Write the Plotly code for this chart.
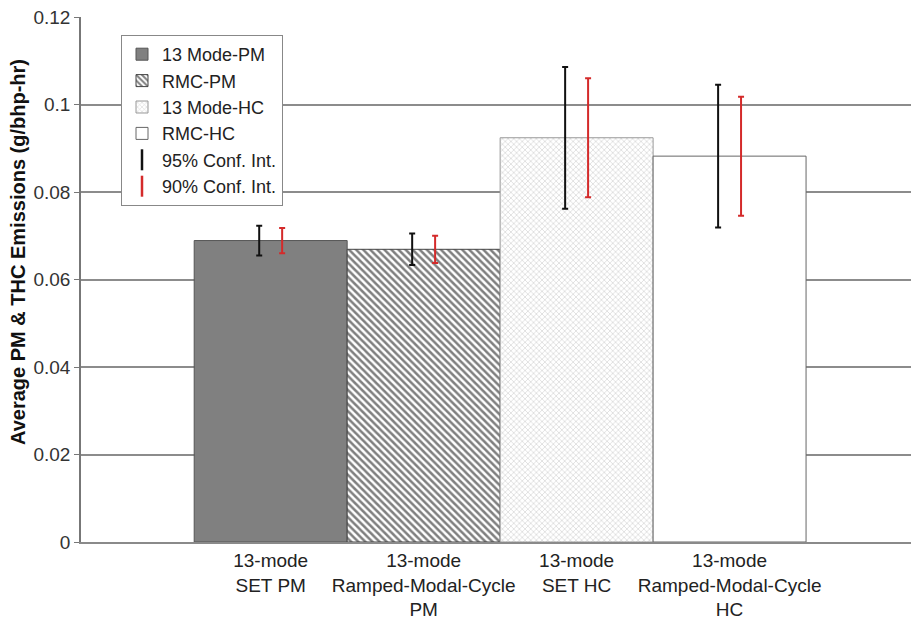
import plotly.graph_objects as go

# Test cycles (one bar each) and their legend names
categories = [
    "13-mode<br>SET PM",
    "13-mode<br>Ramped-Modal-Cycle<br>PM",
    "13-mode<br>SET HC",
    "13-mode<br>Ramped-Modal-Cycle<br>HC",
]
series_names = ["13 Mode-PM", "RMC-PM", "13 Mode-HC", "RMC-HC"]

# Average emissions (g/bhp-hr) and confidence-interval half widths
means = [0.0689, 0.0669, 0.0924, 0.0882]
ci95 = [0.0034, 0.0036, 0.0162, 0.0163]
ci90 = [0.0029, 0.0031, 0.0136, 0.0136]

y_ticks = [0, 0.02, 0.04, 0.06, 0.08, 0.1, 0.12]

FONT = "Liberation Sans, Arial, sans-serif"
positions = list(range(len(categories)))

bar_styles = [
    dict(color="#808080", line=dict(color="#555555", width=1)),
    dict(color="white", line=dict(color="#444444", width=1),
         pattern=dict(shape="\\", fgcolor="#000000", bgcolor="white",
                      size=5, solidity=0.5)),
    dict(color="white", line=dict(color="#999999", width=1),
         pattern=dict(shape="x", fgcolor="#b5b5b5", bgcolor="white",
                      size=4, solidity=0.35)),
    dict(color="white", line=dict(color="#666666", width=1)),
]

fig = go.Figure()

for pos, name, val, style in zip(positions, series_names, means, bar_styles):
    fig.add_trace(go.Bar(
        x=[pos], y=[val], name=name, width=1.0,
        marker=style, showlegend=True,
    ))

# Confidence intervals drawn beside each bar centre
shift = 0.075
ci_sets = [
    ("95% Conf. Int.", ci95, "#111111", -shift),
    ("90% Conf. Int.", ci90, "#d42a2a", shift),
]
for name, half, color, dx in ci_sets:
    fig.add_trace(go.Scatter(
        x=[p + dx for p in positions], y=means, mode="markers",
        marker=dict(size=1, color="rgba(0,0,0,0)"),
        error_y=dict(type="data", array=half, symmetric=True,
                     color=color, thickness=2, width=3),
        showlegend=False, hoverinfo="skip",
    ))
    fig.add_trace(go.Scatter(
        x=[None], y=[None], mode="markers", name=name,
        marker=dict(symbol="line-ns-open", size=15, color=color,
                    line=dict(color=color, width=2.5)),
    ))

fig.update_layout(
    width=911, height=622,
    margin=dict(l=81, r=0, t=17, b=80, autoexpand=False),
    paper_bgcolor="white", plot_bgcolor="white",
    barmode="overlay",
    font=dict(family=FONT, size=19, color="#222222"),
    legend=dict(
        x=(121 - 81) / 830, y=(542 - 35) / 525,
        xanchor="left", yanchor="top",
        bgcolor="white", bordercolor="#888888", borderwidth=1,
        font=dict(family=FONT, size=18, color="#222222"),
        itemwidth=30, tracegroupgap=0,
    ),
    xaxis=dict(
        range=[-1.24, 4.186],
        tickmode="array", tickvals=positions, ticktext=categories,
        ticks="", showgrid=False, zeroline=False,
        showline=True, linecolor="#8a8a8a", linewidth=2,
        tickfont=dict(family=FONT, size=19, color="#222222"),
    ),
    yaxis=dict(
        range=[0, 0.12], tickmode="array", tickvals=y_ticks,
        ticktext=[f"{v:g}" for v in y_ticks],
        ticks="outside", ticklen=5, tickcolor="#777777", tickwidth=1,
        showgrid=True, gridcolor="#8c8c8c", gridwidth=1.5,
        zeroline=False, showline=True, linecolor="#777777", linewidth=1.5,
        tickfont=dict(family=FONT, size=19, color="#333333"),
    ),
    annotations=[dict(
        text="<b>Average PM &amp; THC Emissions (g/bhp-hr)</b>",
        textangle=-90, xref="paper", yref="paper",
        x=(18 - 81) / 830, y=(542 - 252) / 525,
        xanchor="center", yanchor="middle", showarrow=False,
        font=dict(family=FONT, size=20, color="#111111"),
    )],
)

fig.write_html("out.html")
